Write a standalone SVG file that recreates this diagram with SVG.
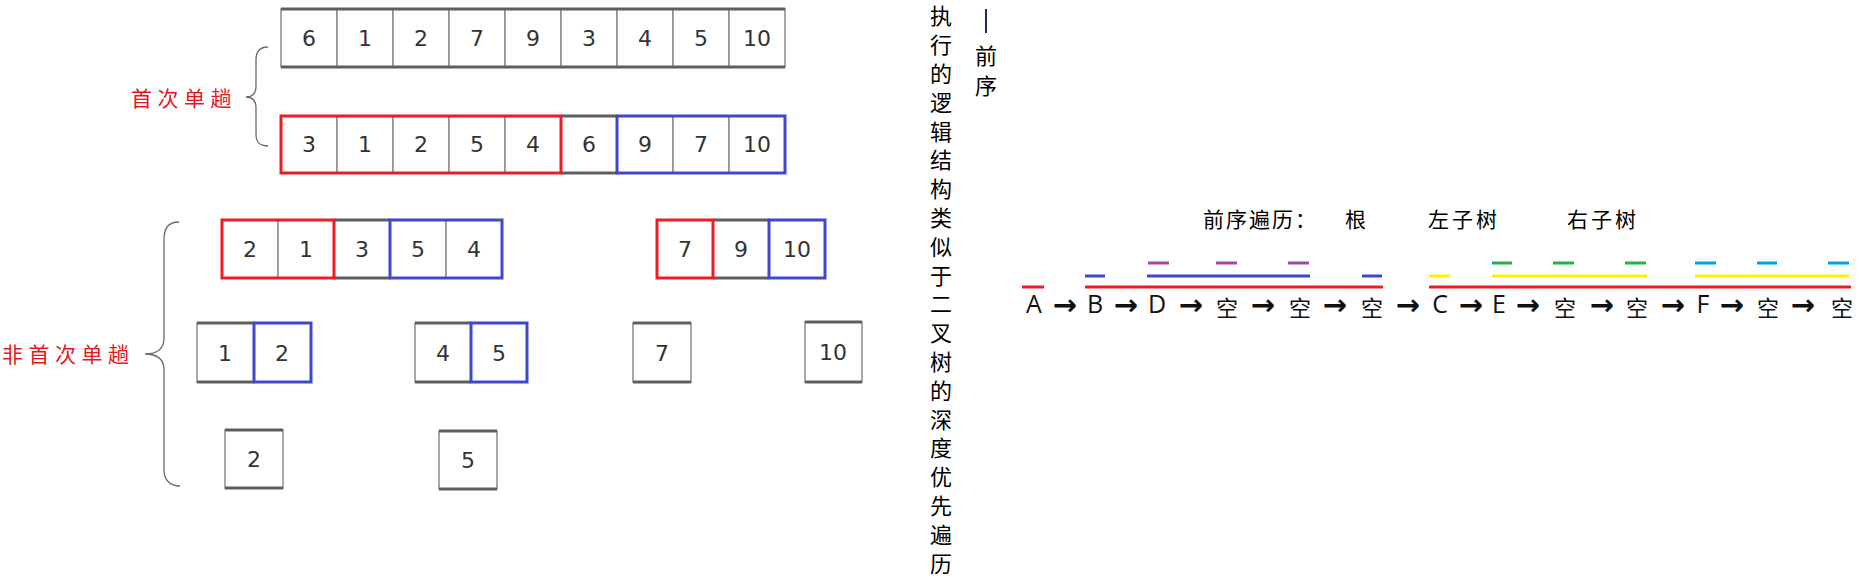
<svg xmlns="http://www.w3.org/2000/svg" width="1860" height="587" viewBox="0 0 1860 587">
<style>
.cell{fill:#fff;stroke:#8c8c8c;stroke-width:1.5}
.edge{stroke:#5e5e5e;stroke-width:3}
.rbox{fill:none;stroke:#ed1c24;stroke-width:3}
.bbox{fill:none;stroke:#3f48cc;stroke-width:3}
.num{font-family:"DejaVu Sans",sans-serif;font-size:22px;fill:#333;text-anchor:middle}
.lbl{font-family:"Noto Sans CJK SC",sans-serif;font-size:21px;fill:#e8141c;letter-spacing:5.5px}
.brace{fill:none;stroke:#6a6a6a;stroke-width:1.3}
.vt{font-family:"Noto Sans CJK SC",sans-serif;font-size:22px;fill:#000;writing-mode:vertical-rl}
.title{font-family:"Noto Sans CJK SC",sans-serif;font-size:21px;fill:#000}
.seq{font-family:"Open Sans","Noto Sans CJK SC",sans-serif;font-size:25px;fill:#111;text-anchor:middle}
.cjk{font-family:"Noto Sans CJK SC",sans-serif;font-size:22px}
.arr{font-family:"DejaVu Sans",sans-serif;font-weight:bold;font-size:29px}
.u{stroke-width:3;fill:none}
.red{stroke:#ed1c24}.blue{stroke:#3f48cc}.purple{stroke:#a349a4}.yellow{stroke:#fff200}.green{stroke:#22b14c}.cyan{stroke:#00a2e8}
</style>

<g id="arr-initial">
<rect class="cell" x="281" y="9" width="56" height="58"/><rect class="cell" x="337" y="9" width="56" height="58"/><rect class="cell" x="393" y="9" width="56" height="58"/><rect class="cell" x="449" y="9" width="56" height="58"/><rect class="cell" x="505" y="9" width="56" height="58"/><rect class="cell" x="561" y="9" width="56" height="58"/><rect class="cell" x="617" y="9" width="56" height="58"/><rect class="cell" x="673" y="9" width="56" height="58"/><rect class="cell" x="729" y="9" width="56" height="58"/>
<line class="edge" x1="281" y1="9" x2="785" y2="9"/><line class="edge" x1="281" y1="67" x2="785" y2="67"/>
<text class="num" y="46"><tspan x="309">6</tspan><tspan x="365">1</tspan><tspan x="421">2</tspan><tspan x="477">7</tspan><tspan x="533">9</tspan><tspan x="589">3</tspan><tspan x="645">4</tspan><tspan x="701">5</tspan><tspan x="757">10</tspan></text>
</g>

<g id="arr-first-pass">
<rect class="cell" x="281" y="116" width="56" height="57"/><rect class="cell" x="337" y="116" width="56" height="57"/><rect class="cell" x="393" y="116" width="56" height="57"/><rect class="cell" x="449" y="116" width="56" height="57"/><rect class="cell" x="505" y="116" width="56" height="57"/><rect class="cell" x="561" y="116" width="56" height="57"/><rect class="cell" x="617" y="116" width="56" height="57"/><rect class="cell" x="673" y="116" width="56" height="57"/><rect class="cell" x="729" y="116" width="56" height="57"/>
<line class="edge" x1="561" y1="116" x2="617" y2="116"/><line class="edge" x1="561" y1="173" x2="617" y2="173"/>
<rect class="rbox" x="281" y="116" width="280" height="57"/>
<rect class="bbox" x="617" y="116" width="168" height="57"/>
<text class="num" y="152"><tspan x="309">3</tspan><tspan x="365">1</tspan><tspan x="421">2</tspan><tspan x="477">5</tspan><tspan x="533">4</tspan><tspan x="589">6</tspan><tspan x="645">9</tspan><tspan x="701">7</tspan><tspan x="757">10</tspan></text>
</g>

<g id="arr-left-1">
<rect class="cell" x="222" y="220" width="56" height="58"/><rect class="cell" x="278" y="220" width="56" height="58"/><rect class="cell" x="334" y="220" width="56" height="58"/><rect class="cell" x="390" y="220" width="56" height="58"/><rect class="cell" x="446" y="220" width="56" height="58"/>
<line class="edge" x1="334" y1="220" x2="390" y2="220"/><line class="edge" x1="334" y1="278" x2="390" y2="278"/>
<rect class="rbox" x="222" y="220" width="112" height="58"/>
<rect class="bbox" x="390" y="220" width="112" height="58"/>
<text class="num" y="257"><tspan x="250">2</tspan><tspan x="306">1</tspan><tspan x="362">3</tspan><tspan x="418">5</tspan><tspan x="474">4</tspan></text>
</g>

<g id="arr-right-1">
<rect class="cell" x="657" y="220" width="56" height="58"/><rect class="cell" x="713" y="220" width="56" height="58"/><rect class="cell" x="769" y="220" width="56" height="58"/>
<line class="edge" x1="713" y1="220" x2="769" y2="220"/><line class="edge" x1="713" y1="278" x2="769" y2="278"/>
<rect class="rbox" x="657" y="220" width="56" height="58"/>
<rect class="bbox" x="769" y="220" width="56" height="58"/>
<text class="num" y="257"><tspan x="685">7</tspan><tspan x="741">9</tspan><tspan x="797">10</tspan></text>
</g>

<g id="arr-12">
<rect class="cell" x="197" y="323" width="57" height="59"/><rect class="cell" x="254" y="323" width="57" height="59"/>
<line class="edge" x1="197" y1="323" x2="254" y2="323"/><line class="edge" x1="197" y1="382" x2="254" y2="382"/>
<rect class="bbox" x="254" y="323" width="57" height="59"/>
<text class="num" y="361"><tspan x="225">1</tspan><tspan x="282">2</tspan></text>
</g>

<g id="arr-45">
<rect class="cell" x="415" y="323" width="56" height="59"/><rect class="cell" x="471" y="323" width="56" height="59"/>
<line class="edge" x1="415" y1="323" x2="471" y2="323"/><line class="edge" x1="415" y1="382" x2="471" y2="382"/>
<rect class="bbox" x="471" y="323" width="56" height="59"/>
<text class="num" y="361"><tspan x="443">4</tspan><tspan x="499">5</tspan></text>
</g>

<g id="arr-7">
<rect class="cell" x="633" y="323" width="58" height="59"/>
<line class="edge" x1="633" y1="323" x2="691" y2="323"/><line class="edge" x1="633" y1="382" x2="691" y2="382"/>
<text class="num" x="662" y="361">7</text>
</g>

<g id="arr-10">
<rect class="cell" x="805" y="322" width="57" height="60"/>
<line class="edge" x1="805" y1="322" x2="862" y2="322"/><line class="edge" x1="805" y1="382" x2="862" y2="382"/>
<text class="num" x="833" y="360">10</text>
</g>

<g id="arr-2">
<rect class="cell" x="225" y="430" width="58" height="58"/>
<line class="edge" x1="225" y1="430" x2="283" y2="430"/><line class="edge" x1="225" y1="488" x2="283" y2="488"/>
<text class="num" x="254" y="467">2</text>
</g>

<g id="arr-5">
<rect class="cell" x="439" y="431" width="58" height="58"/>
<line class="edge" x1="439" y1="431" x2="497" y2="431"/><line class="edge" x1="439" y1="489" x2="497" y2="489"/>
<text class="num" x="468" y="468">5</text>
</g>

<g id="label-first">
<text class="lbl" x="131" y="106">首次单趟</text>
</g>
<g id="label-rest">
<text class="lbl" x="2" y="362">非首次单趟</text>
</g>

<g id="connectors">
<path class="brace" d="M268,47 C259,47 256,52 256,60 L256,86 C256,93 253,97 246,97 C253,97 256,101 256,108 L256,134 C256,142 259,146 268,146"/>
<path class="brace" d="M179,222 C168,222 164,228 164,240 L164,338 C164,348 158,354 145,354 C158,354 164,360 164,370 L164,470 C164,480 170,486 180,486"/>
</g>

<g id="note-vertical">
<text class="vt" x="941" y="5" style="letter-spacing:6.8px">执行的逻辑结构类似于二叉树的深度优先遍历</text>
</g>
<g id="note-preorder">
<line x1="986" y1="9" x2="986" y2="33" stroke="#1f2a5c" stroke-width="2"/>
<text class="vt" x="986" y="45" style="letter-spacing:8px">前序</text>
</g>

<g id="title">
<text class="title" y="227"><tspan x="1203" style="letter-spacing:2px">前序遍历：</tspan><tspan x="1345">根</tspan><tspan x="1428" style="letter-spacing:3px">左子树</tspan><tspan x="1567" style="letter-spacing:3px">右子树</tspan></text>
</g>

<g id="underlines">
<line class="u red" x1="1022" y1="287" x2="1044" y2="287"/>
<line class="u red" x1="1085" y1="287" x2="1383" y2="287"/>
<line class="u red" x1="1429" y1="287" x2="1851" y2="287"/>
<line class="u blue" x1="1085" y1="276" x2="1105" y2="276"/>
<line class="u blue" x1="1147" y1="276" x2="1310" y2="276"/>
<line class="u blue" x1="1362" y1="276" x2="1382" y2="276"/>
<line class="u purple" x1="1148" y1="263" x2="1169" y2="263"/>
<line class="u purple" x1="1216" y1="263" x2="1237" y2="263"/>
<line class="u purple" x1="1288" y1="263" x2="1309" y2="263"/>
<line class="u yellow" x1="1429" y1="276" x2="1450" y2="276"/>
<line class="u yellow" x1="1492" y1="276" x2="1647" y2="276"/>
<line class="u yellow" x1="1695" y1="276" x2="1849" y2="276"/>
<line class="u green" x1="1492" y1="263" x2="1512" y2="263"/>
<line class="u green" x1="1553" y1="263" x2="1574" y2="263"/>
<line class="u green" x1="1625" y1="263" x2="1646" y2="263"/>
<line class="u cyan" x1="1695" y1="263" x2="1716" y2="263"/>
<line class="u cyan" x1="1757" y1="263" x2="1777" y2="263"/>
<line class="u cyan" x1="1828" y1="263" x2="1849" y2="263"/>
</g>

<g id="sequence">
<text class="seq" y="313"><tspan x="1034">A</tspan><tspan class="arr" x="1065" y="315">→</tspan><tspan x="1095" y="313">B</tspan><tspan class="arr" x="1126" y="315">→</tspan><tspan x="1157" y="313">D</tspan><tspan class="arr" x="1191" y="315">→</tspan><tspan class="cjk" x="1227" y="316">空</tspan><tspan class="arr" x="1263" y="315">→</tspan><tspan class="cjk" x="1300" y="316">空</tspan><tspan class="arr" x="1335" y="315">→</tspan><tspan class="cjk" x="1372" y="316">空</tspan><tspan class="arr" x="1408" y="315">→</tspan><tspan x="1440" y="313">C</tspan><tspan class="arr" x="1471" y="315">→</tspan><tspan x="1499" y="313">E</tspan><tspan class="arr" x="1528" y="315">→</tspan><tspan class="cjk" x="1565" y="316">空</tspan><tspan class="arr" x="1602" y="315">→</tspan><tspan class="cjk" x="1637" y="316">空</tspan><tspan class="arr" x="1673" y="315">→</tspan><tspan x="1703" y="313">F</tspan><tspan class="arr" x="1732" y="315">→</tspan><tspan class="cjk" x="1768" y="316">空</tspan><tspan class="arr" x="1803" y="315">→</tspan><tspan class="cjk" x="1842" y="316">空</tspan></text>
</g>
</svg>
